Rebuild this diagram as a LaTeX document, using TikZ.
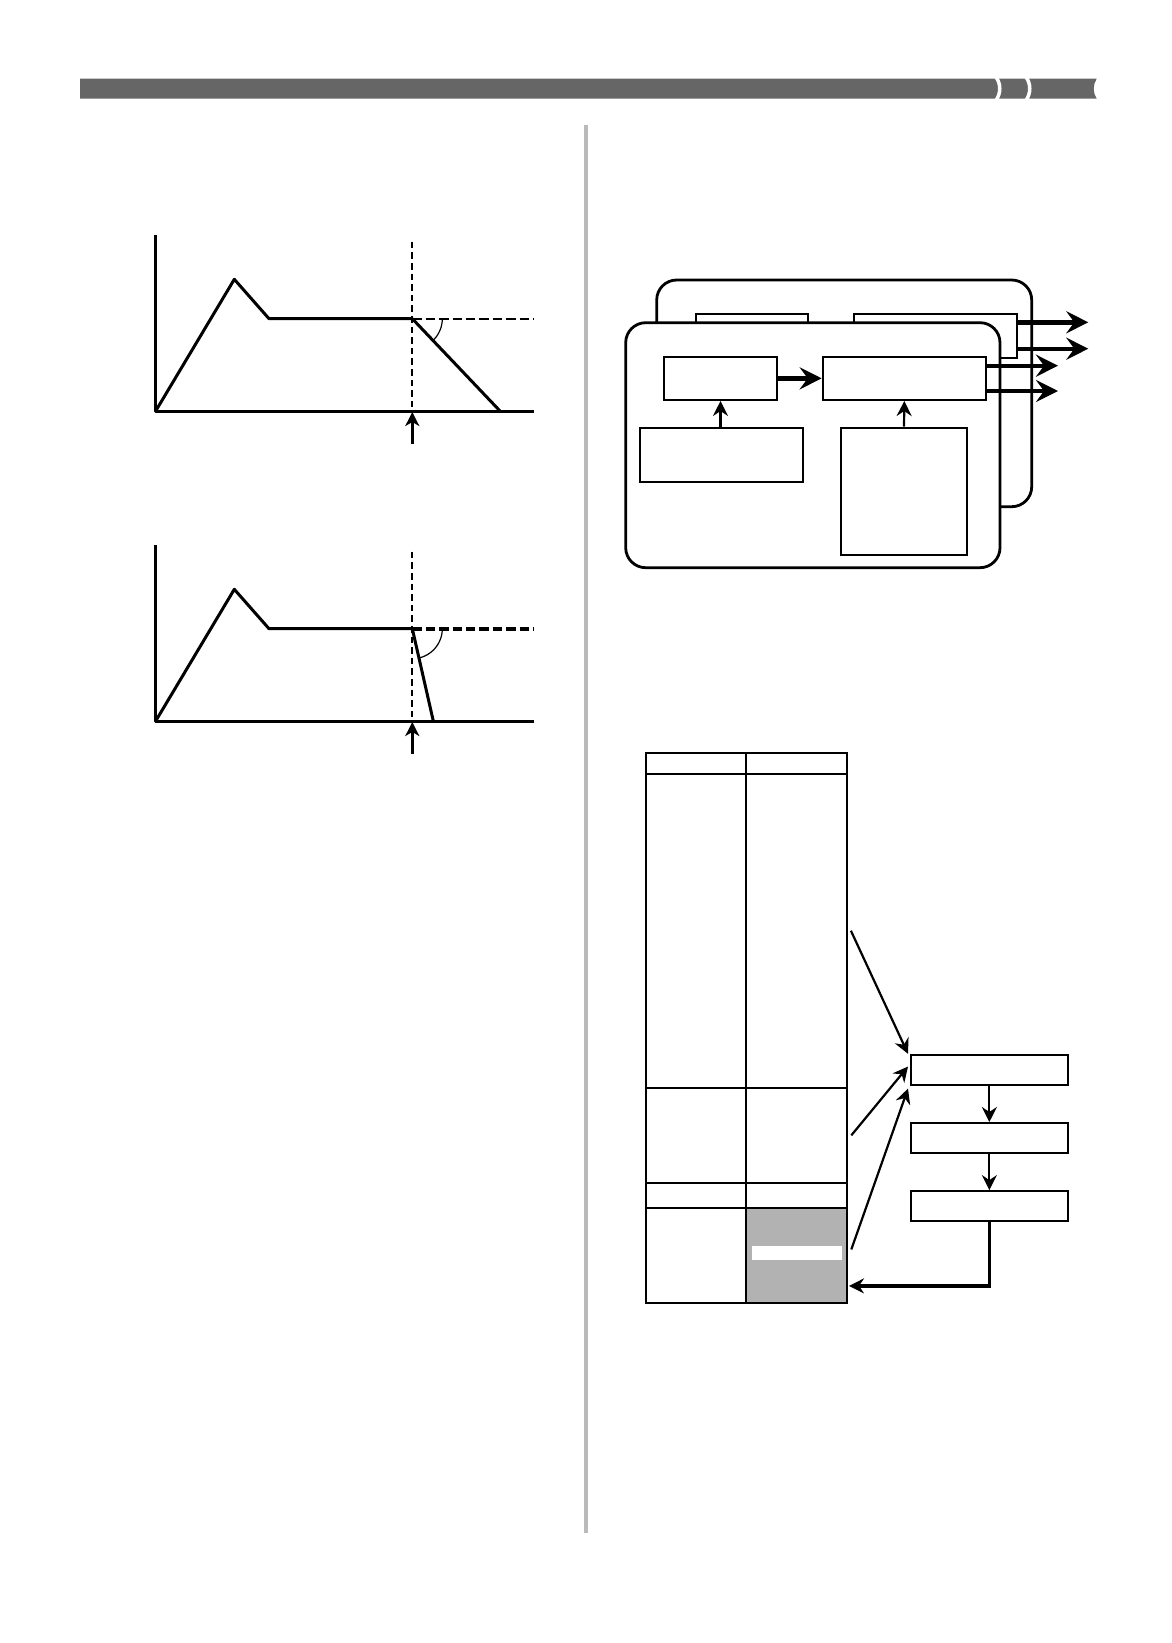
\documentclass[tikz,border=0pt]{standalone}
\usetikzlibrary{arrows.meta, fit}

\begin{document}
\begin{tikzpicture}[x=0.5pt, y=-0.5pt, >={Stealth[length=7pt,width=7pt,inset=2pt]},
  curve/.style={line width=1.5pt, line join=round},
  guide/.style={line width=1pt, dash pattern=on 3.3pt off 2pt},
  card/.style={draw, line width=1.4pt, rounded corners=10pt, fill=white, inner sep=0pt},
  blk/.style={draw, line width=1pt, fill=white, inner sep=0pt},
  cell/.style={draw, line width=1pt, inner sep=0pt},
  fat/.style={line width=2.2pt, -{Stealth[length=11pt,width=11pt,inset=4pt]}},
  link/.style={line width=1.1pt, -{Stealth[length=7.5pt,width=7.5pt,inset=2.5pt]}}]
  \useasboundingbox (0,0) rectangle (1172,1643);

  % page header bar with the cut-outs at its right end
  \fill[black!60] (80,78.7) -- (1096.7,78.7) .. controls (1092.7,85) and (1092.7,92.4) ..
       (1096.7,98.7) -- (80,98.7) -- cycle;
  \foreach \gx in {996,1026}
    \draw[white, line width=1.75pt] (\gx,77) .. controls (\gx+5,84) and (\gx+5,93) .. (\gx,100.5);

  % column divider
  \fill[black!27] (583.7,124.7) rectangle (588,1532.7);

  % two envelopes: slow and fast release
  \foreach \dy/\rx/\ang/\hw in {0/500/46.5/1pt, 310/433.3/77/2pt} {
    \draw[curve] (155.7,235+\dy) -- (155.7,411+\dy) -- (534.3,411+\dy);
    \draw[guide] (412.3,241.7+\dy) -- (412.3,411+\dy);
    \draw[line width=\hw, dash pattern=on 4.7pt off 2pt] (412.3,318.7+\dy) -- (534.3,318.7+\dy);
    \draw[curve] (155.7,411+\dy) -- (234.3,279.3+\dy) -- (269,318.7+\dy)
         -- (412.3,318.7+\dy) -- (\rx,411+\dy);
    \draw[line width=0.6pt] plot[domain=0:\ang, samples=24]
         ({412.3+30*cos(\x)}, {318.7+\dy+30*sin(\x)});
    \draw[->, line width=1.3pt] (412.3,444+\dy) -- (412.3,412+\dy);
  }

  % second card, behind
  \node[card, fit={(656.7,280) (1031.7,506.7)}] (backcard) {};
  \node[blk, fit={(696,313.7) (808.3,357.7)}] (bgen) {};
  \node[blk, fit={(854.3,313.7) (1017.3,357.7)}] (bmix) {};
  \draw[fat] ([yshift=-4.8pt]bmix.north east) -- ++(70,0);
  \draw[fat] ([yshift=5pt]bmix.south east) -- ++(70,0);

  % first card, in front
  \node[card, fit={(625.7,322.7) (1000,567.7)}] (card) {};
  \node[blk, fit={(663.7,356.7) (777.3,400)}] (gen) {};
  \node[blk, fit={(822.7,356.7) (986,400)}] (mix) {};
  \node[blk, fit={(639.7,428.3) (803.3,481.7)}] (genset) {};
  \node[blk, fit={(840.7,427.7) (967.3,555.3)}] (mixset) {};
  \draw[fat] (gen) -- (mix);
  \draw[fat] ([yshift=-5pt]mix.north east) -- ++(71,0);
  \draw[fat] ([yshift=5pt]mix.south east) -- ++(71,0);
  \draw[link] (genset.north -| gen.south) -- (gen.south);
  \draw[link] (mixset.north) -- (mix.south);

  % table
  \fill[black!30] (746.3,1207.9) rectangle (847.3,1303);
  \foreach \r/\ya/\yb in {0/753.1/773.8, 1/773.8/1087.6, 2/1087.6/1183.1,
                          3/1183.1/1207.9, 4/1207.9/1303} {
    \node[cell, fit={(645.7,\ya) (746.3,\yb)}] (a\r) {};
    \node[cell, fit={(746.3,\ya) (847.3,\yb)}] (b\r) {};
  }
  \fill[white] (751.7,1245.8) rectangle (842,1260.4);

  % process chain
  \node[blk, fit={(911.2,1054.8) (1067.5,1084.7)}] (proc1) {};
  \node[blk, fit={(911.2,1123) (1067.5,1152.8)}] (proc2) {};
  \node[blk, fit={(911.2,1191.1) (1067.5,1221)}] (proc3) {};
  \draw[link] ([xshift=1.3pt]b1.east) -- ([xshift=-1.1pt]proc1.north west);
  \draw[link] ([xshift=1.5pt]b2.east) -- ([xshift=-1.1pt,yshift=1.6pt]proc1.west);
  \draw[link] ([xshift=1.5pt,yshift=3pt]b4.east) -- ([xshift=-1.1pt,yshift=-1.45pt]proc1.south west);
  \draw[link] (proc1) -- (proc2);
  \draw[link] (proc2) -- (proc3);
  \coordinate (ret) at (849,1285.9);
  \draw[link, line width=1.6pt] (proc3.south) |- (ret);
\end{tikzpicture}
\end{document}
